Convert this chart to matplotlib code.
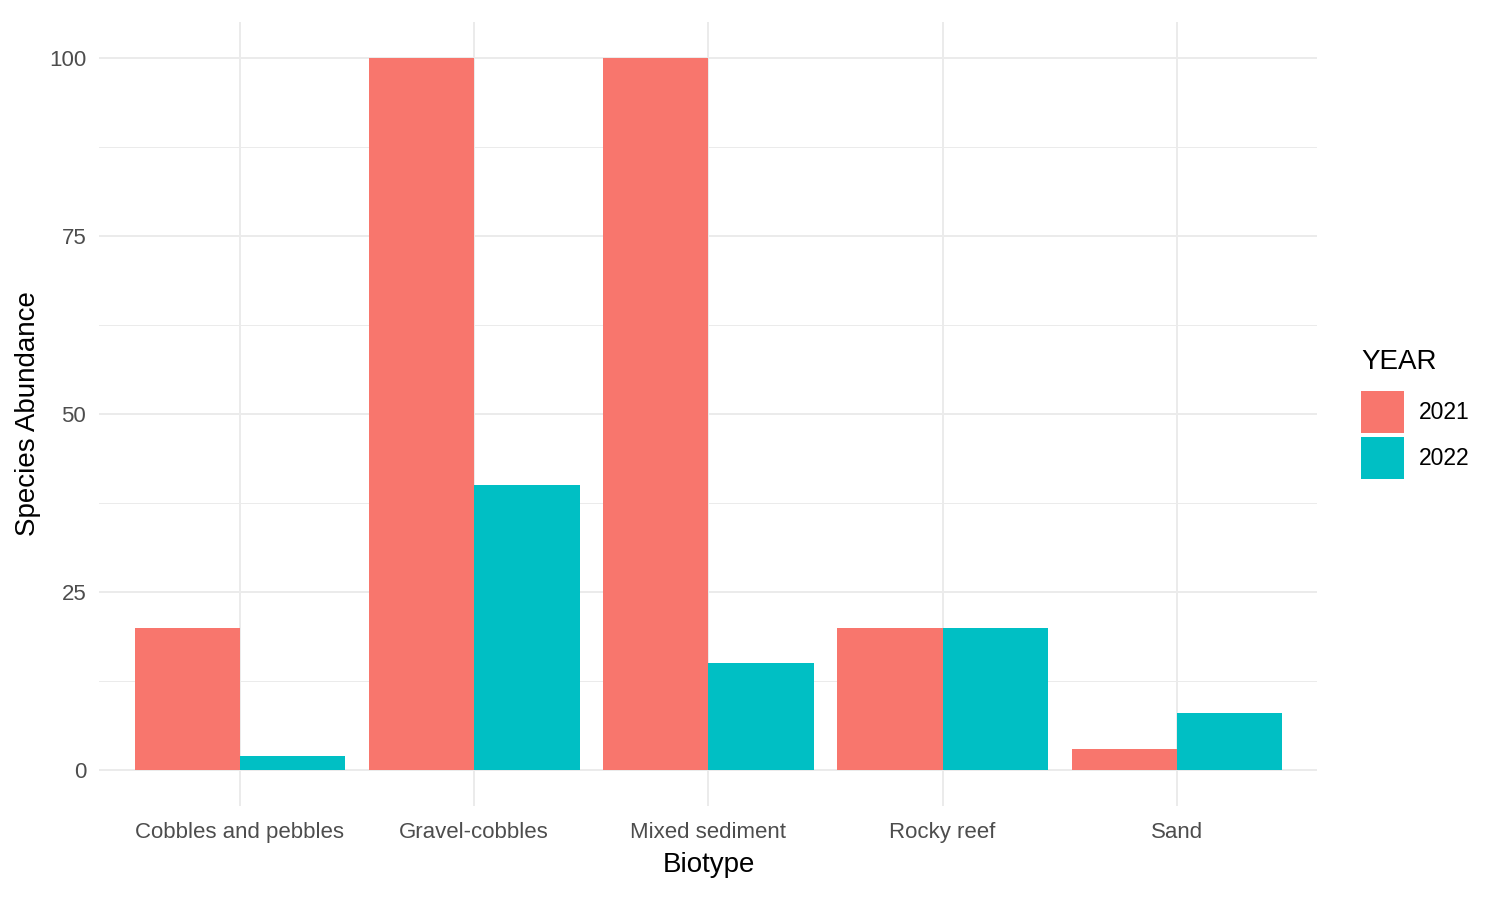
import numpy as np
import matplotlib.pyplot as plt
from matplotlib.ticker import MultipleLocator

plt.rcParams['font.family'] = ['Liberation Sans', 'DejaVu Sans']

# Species abundance by biotype and year
biotypes = ['Cobbles and pebbles', 'Gravel-cobbles', 'Mixed sediment', 'Rocky reef', 'Sand']
years = ['2021', '2022']
abund_2021 = [20, 100, 100, 20, 3]
abund_2022 = [2, 40, 15, 20, 8]
colors = ['#F8766D', '#00BFC4']

fig = plt.figure(figsize=(15, 9), dpi=100)
ax = fig.add_axes([0.0663, 0.1049, 0.812, 0.8702])

x = np.arange(1, len(biotypes) + 1)
w = 0.45
ax.bar(x - w / 2, abund_2021, width=w, color=colors[0], label=years[0], zorder=3)
ax.bar(x + w / 2, abund_2022, width=w, color=colors[1], label=years[1], zorder=3)

# ggplot-like expansion
ax.set_xlim(0.4, len(biotypes) + 0.6)
ax.set_ylim(-5, 105)
ax.set_xticks(x)
ax.set_xticklabels(biotypes)
ax.yaxis.set_major_locator(MultipleLocator(25))
ax.yaxis.set_minor_locator(MultipleLocator(12.5))

ax.grid(which='major', color='#EBEBEB', linewidth=1.4, zorder=0)
ax.grid(which='minor', axis='y', color='#EBEBEB', linewidth=0.7, zorder=0)
ax.set_axisbelow(True)
for s in ax.spines.values():
    s.set_visible(False)
ax.tick_params(which='both', length=0, labelsize=16, labelcolor='#4D4D4D')
ax.tick_params(axis='x', pad=11.5)
ax.tick_params(axis='y', pad=9.5)

ax.set_xlabel('Biotype', fontsize=20, labelpad=6.5)
ax.set_ylabel('Species Abundance', fontsize=20, labelpad=5.5)

fig.text(0.9073, 0.5978, 'YEAR', fontsize=20, va='center', ha='left')
leg = ax.legend(loc='upper left', bbox_to_anchor=(0.9073, 0.5656),
                bbox_transform=fig.transFigure, frameon=False, fontsize=16.5,
                handlelength=1.88, handleheight=2.44,
                handletextpad=0.65, labelspacing=0.17, borderaxespad=0, borderpad=0)

fig.savefig('out.png', dpi=100, facecolor='white')
